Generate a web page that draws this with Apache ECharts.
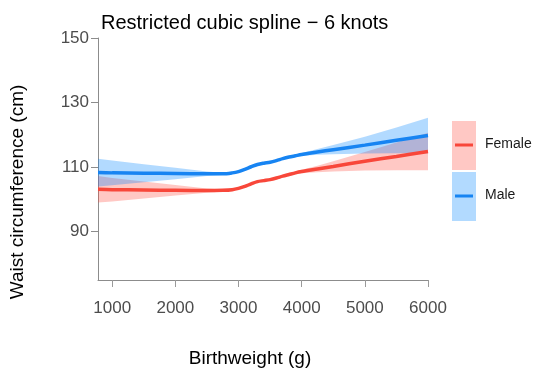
<!DOCTYPE html>
<html>
<head>
<meta charset="utf-8">
<script src="https://cdn.jsdelivr.net/npm/echarts@6/dist/echarts.min.js"></script>
<style>
  html, body { margin: 0; padding: 0; background: #fff; }
  #chart { width: 538px; height: 379px; }
</style>
</head>
<body>
<div id="chart"></div>
<script>
// Birthweight grid (g) at which the spline fits are evaluated
const birthweight = [775, 1000, 1500, 2000, 2500, 2750, 2900, 3000, 3100, 3200, 3300, 3400,
  3500, 3600, 3700, 3800, 3900, 4000, 4250, 4500, 5000, 5500, 6000];

// Male fit and 95% confidence limits (cm)
const maleFit = [108.3, 108.2, 108.1, 108.0, 107.9, 107.9, 108.2, 108.6, 109.3, 110.1, 110.8, 111.2,
  111.5, 112.0, 112.6, 113.1, 113.5, 113.9, 114.7, 115.4, 116.8, 118.3, 119.8];
const maleLower = [104.0, 104.35, 105.3, 106.25, 107.2, 107.55, 107.9, 108.3, 109.0, 109.8, 110.5, 110.9,
  111.2, 111.7, 112.3, 112.8, 113.15, 113.45, 113.8, 113.95, 114.2, 114.3, 114.3];
const maleUpper = [112.6, 112.05, 110.9, 109.75, 108.6, 108.25, 108.5, 108.9, 109.6, 110.4, 111.1, 111.5,
  111.8, 112.3, 112.9, 113.4, 113.85, 114.35, 115.6, 116.85, 119.4, 122.3, 125.3];

// Female fit and 95% confidence limits (cm)
const femaleFit = [103.1, 103.0, 102.9, 102.8, 102.7, 102.8, 103.0, 103.4, 104.0, 104.8, 105.5, 105.8,
  106.1, 106.6, 107.2, 107.7, 108.2, 108.6, 109.4, 110.2, 111.8, 113.3, 114.8];
const femaleLower = [99.0, 99.35, 100.25, 101.15, 102.05, 102.45, 102.7, 103.1, 103.7, 104.5, 105.2, 105.5,
  105.8, 106.3, 106.9, 107.4, 107.8, 108.05, 108.4, 108.6, 108.95, 109.0, 109.0];
const femaleUpper = [107.2, 106.65, 105.55, 104.45, 103.35, 103.15, 103.3, 103.7, 104.3, 105.1, 105.8, 106.1,
  106.4, 106.9, 107.5, 108.0, 108.6, 109.15, 110.4, 111.8, 114.65, 117.6, 120.6];

// Axis ticks
const xTicks = [1000, 2000, 3000, 4000, 5000, 6000];
const yTicks = [90, 110, 130, 150];

const groups = ['Female', 'Male'];

const FONT = '"Liberation Sans", Arial, Helvetica, sans-serif';
const colors = {
  Female: { line: '#F8473A', band: 'rgba(255,72,58,0.3)' },
  Male: { line: '#1784F2', band: 'rgba(0,132,255,0.3)' }
};

const pairs = (xs, ys) => xs.map((x, i) => [x, ys[i]]);

// Confidence band: one polygon running along the upper limit and back along the lower limit
function bandSeries(name, lower, upper, z) {
  const rows = birthweight.map((x, i) => [x, lower[i], upper[i]]);
  return {
    name: name + ' band', type: 'custom', silent: true, z: z,
    encode: { x: 0, y: [1, 2] },
    data: rows,
    renderItem: function (params, api) {
      if (params.dataIndex !== 0) return null;
      const top = rows.map(r => api.coord([r[0], r[2]]));
      const bottom = rows.map(r => api.coord([r[0], r[1]])).reverse();
      return {
        type: 'polygon',
        shape: { points: top.concat(bottom) },
        style: { fill: colors[name].band }
      };
    }
  };
}

function fitSeries(name, fit, z) {
  return {
    name: name, type: 'line', smooth: 0.3, symbol: 'none',
    data: pairs(birthweight, fit),
    lineStyle: { color: colors[name].line, width: 3.5 }, z: z
  };
}

const chart = echarts.init(document.getElementById('chart'), null, { renderer: 'canvas' });

// Legend: shaded key with a line through the middle of each box
const legendGraphics = [];
groups.forEach((g, i) => {
  const top = 121 + i * 51;
  legendGraphics.push(
    { type: 'rect', left: 452, top: top, shape: { width: 24, height: 49 }, style: { fill: colors[g].band } },
    { type: 'line', shape: { x1: 455, y1: top + 24, x2: 473, y2: top + 24 }, style: { stroke: colors[g].line, lineWidth: 3 } },
    { type: 'text', left: 485, top: top + 16, style: { text: g, fill: '#1a1a1a', font: '14px ' + FONT } }
  );
});

chart.setOption({
  animation: false,
  backgroundColor: '#ffffff',
  title: {
    text: 'Restricted cubic spline \u2212 6 knots',
    left: 96, top: 8,
    textStyle: { fontFamily: FONT, fontSize: 20, fontWeight: 'normal', color: '#000' }
  },
  grid: { left: 98, right: 110, top: 38, bottom: 99 },
  xAxis: {
    type: 'value', min: 775, max: 6000,
    splitLine: { show: false },
    axisLine: { lineStyle: { color: '#8c8c8c', width: 1 } },
    axisTick: { length: 7, lineStyle: { color: '#9a9a9a' }, customValues: xTicks },
    axisLabel: {
      customValues: xTicks, margin: 20, color: '#4d4d4d', fontFamily: FONT, fontSize: 17,
      formatter: v => String(v)
    }
  },
  yAxis: {
    type: 'value', min: 75, max: 150,
    splitLine: { show: false },
    axisLine: { show: true, lineStyle: { color: '#8c8c8c', width: 1 } },
    axisTick: { show: true, length: 7, lineStyle: { color: '#8c8c8c' }, customValues: yTicks },
    axisLabel: {
      customValues: yTicks, margin: 9, color: '#4d4d4d', fontFamily: FONT, fontSize: 17,
      formatter: v => String(v)
    }
  },
  graphic: [
    {
      type: 'text', x: 18, y: 192, rotation: Math.PI / 2,
      style: { text: 'Waist circumference (cm)', fill: '#000', font: '19px ' + FONT, align: 'center', verticalAlign: 'middle' }
    },
    {
      type: 'text', x: 250, y: 359,
      style: { text: 'Birthweight (g)', fill: '#000', font: '19px ' + FONT, align: 'center', verticalAlign: 'middle' }
    }
  ].concat(legendGraphics),
  series: [
    bandSeries('Female', femaleLower, femaleUpper, 1),
    bandSeries('Male', maleLower, maleUpper, 2),
    fitSeries('Female', femaleFit, 3),
    fitSeries('Male', maleFit, 4)
  ]
});
</script>
</body>
</html>
